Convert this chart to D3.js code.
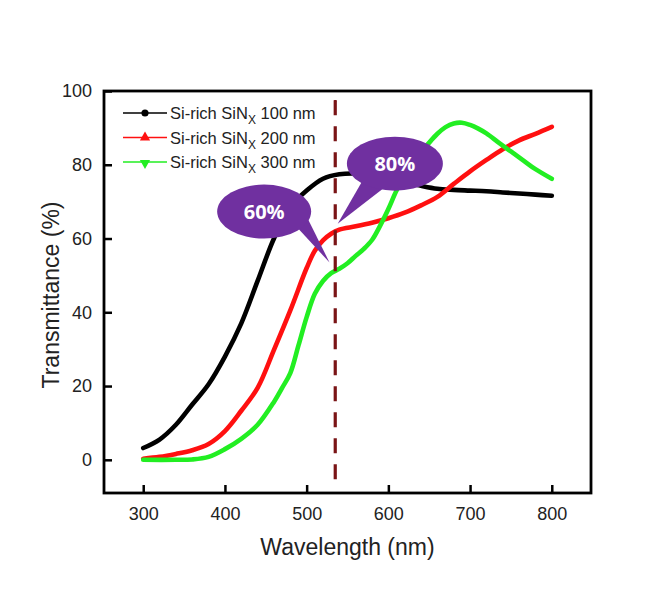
<!DOCTYPE html>
<html>
<head>
<meta charset="utf-8">
<script src="https://cdn.jsdelivr.net/npm/d3@7"></script>
<style>
  body { margin: 0; background: #fff; }
  text { font-family: "Liberation Sans", Arial, sans-serif; }
</style>
</head>
<body>
<div id="chart"></div>
<script>
// data (wavelength in nm, transmittance in %)
const wl100 = [300,320,340,360,380,400,420,440,460,480,500,520,540,560,580,600,620,640,660,680,700,720,740,760,780,800];
const t100  = [3.2,5.5,9.5,15,20.5,28,37,48.5,60,68.5,73,76.2,77.4,77.6,77.2,76.3,75.3,74.3,73.5,73.2,73,72.8,72.5,72.2,71.9,71.6];

const wl200 = [300,320,340,360,380,400,420,440,460,480,500,510,520,530,540,560,580,600,620,640,660,680,700,720,740,760,780,800];
const t200  = [0.3,0.8,1.6,2.6,4.3,7.8,13.3,19.5,29.8,40.5,52,56.7,59.5,61.3,62.4,63.3,64.3,65.5,67,69,71.3,74.8,78.2,81.3,84.2,86.6,88.4,90.3];

const wl300 = [300,340,360,380,400,420,440,460,470,480,490,500,510,520,530,540,550,560,570,580,590,600,610,620,630,640,650,660,670,680,690,700,710,720,735,750,765,780,800];
const t300  = [0,0,0.1,0.8,2.9,5.7,9.5,15.7,19.5,23.5,31,38.7,45,48.5,50.6,51.8,53.3,55.3,57.2,59.6,63.5,68,73,77,80,83.3,86,88.4,90.2,91.2,91.4,90.8,89.8,88.5,86,83.6,81.2,78.8,76.2];

const seriesNames = ["100 nm", "200 nm", "300 nm"];
const xTicks = [300, 400, 500, 600, 700, 800];
const yTicks = [0, 20, 40, 60, 80, 100];
const markerLine = 535;           // dashed reference wavelength
const calloutLabels = ["60%", "80%"];
const calloutTip = [[528, 53.5], [538, 64]];     // [wavelength, %]
const calloutCenter = [[448, 67.3], [608, 80.3]];

const W = 667, H = 599;
const m = {top: 91, right: 76, bottom: 106, left: 104},
    w = W - m.left - m.right,
    h = H - m.top - m.bottom;

const svg = d3.select("#chart").append("svg")
    .attr("width", W).attr("height", H);

const x = d3.scaleLinear().domain([252, 848]).range([m.left, m.left + w]);
const y = d3.scaleLinear().domain([-9, 100]).range([m.top + h, m.top]);

// axes with inward ticks
const xAxis = svg.append("g")
    .attr("transform", `translate(0,${m.top + h})`)
    .call(d3.axisBottom(x).tickValues(xTicks).tickSizeInner(-8).tickSizeOuter(0).tickPadding(14));
const yAxis = svg.append("g")
    .attr("transform", `translate(${m.left},0)`)
    .call(d3.axisLeft(y).tickValues(yTicks).tickSizeInner(-8).tickSizeOuter(0).tickPadding(12));

[xAxis, yAxis].forEach(a => {
  a.select(".domain").remove();
  a.selectAll(".tick line").attr("stroke", "#000").attr("stroke-width", 2.5);
  a.selectAll(".tick text").attr("fill", "#222").style("font-size", "18px")
    .style("font-family", "'Liberation Sans', Arial, sans-serif");
});

// frame
svg.append("rect")
    .attr("x", m.left).attr("y", m.top)
    .attr("width", w).attr("height", h)
    .attr("fill", "none").attr("stroke", "#000").attr("stroke-width", 2.8);

// axis titles
svg.append("text")
    .attr("x", m.left + w / 2).attr("y", 555)
    .attr("text-anchor", "middle")
    .style("font-size", "23px").attr("fill", "#222")
    .text("Wavelength (nm)");
svg.append("text")
    .attr("transform", `translate(59,${m.top + h / 2 + 3}) rotate(-90)`)
    .attr("text-anchor", "middle")
    .style("font-size", "23px").attr("fill", "#222")
    .text("Transmittance (%)");

// curves
const colors = ["#000000", "#ff1010", "#22ee22"];
const sets = [[wl100, t100], [wl200, t200], [wl300, t300]];
const line = d3.line().x(d => x(d[0])).y(d => y(d[1])).curve(d3.curveCatmullRom.alpha(0.5));

sets.forEach((s, i) => {
  const pts = s[0].map((v, j) => [v, s[1][j]]);
  svg.append("path")
      .datum(pts)
      .attr("d", line)
      .attr("fill", "none")
      .attr("stroke", colors[i])
      .attr("stroke-width", 4.6)
      .attr("stroke-linejoin", "round")
      .attr("stroke-linecap", "round");
});

// dashed reference line
svg.append("line")
    .attr("x1", x(markerLine)).attr("x2", x(markerLine))
    .attr("y1", y(97.5)).attr("y2", y(-6))
    .attr("stroke", "#7a1416").attr("stroke-width", 3.2)
    .attr("stroke-dasharray", "15,11");
svg.append("rect")
    .attr("x", x(markerLine) - 1).attr("y", y(100) + 9)
    .attr("width", 2).attr("height", 2).attr("fill", "#7a1416");

// legend
const lg = svg.append("g").attr("transform", "translate(123,113)");
const sym = [d3.symbolCircle, d3.symbolTriangle, d3.symbolTriangle];
seriesNames.forEach((n, i) => {
  const row = lg.append("g").attr("transform", `translate(0,${i * 24.5})`);
  row.append("line").attr("x1", 0).attr("x2", 44)
      .attr("stroke", colors[i]).attr("stroke-width", 1.6);
  row.append("path")
      .attr("d", d3.symbol().type(sym[i]).size(i === 0 ? 40 : 45))
      .attr("transform", `translate(22,${i === 2 ? 1 : 0}) rotate(${i === 2 ? 180 : 0})`)
      .attr("fill", colors[i]);
  const t = row.append("text").attr("x", 47).attr("y", 6)
      .style("font-size", "16.5px").attr("fill", "#222");
  t.append("tspan").text("Si-rich SiN");
  t.append("tspan").attr("dy", 5).style("font-size", "12px").text("X");
  t.append("tspan").attr("dy", -5).text(" " + n);
});

// callouts
const rx = [47, 48], ry = [27, 27];
const baseOff = [[[34, 17], [44, 8]], [[-33, 18], [-12, 25]]];
calloutLabels.forEach((lab, i) => {
  const cx = x(calloutCenter[i][0]), cy = y(calloutCenter[i][1]);
  const tip = [x(calloutTip[i][0]), y(calloutTip[i][1])];
  const g = svg.append("g");
  g.append("path")
      .attr("d", d3.line()([[cx + baseOff[i][0][0], cy + baseOff[i][0][1]], tip,
                            [cx + baseOff[i][1][0], cy + baseOff[i][1][1]]]) + "Z")
      .attr("fill", "#7030a0");
  g.append("ellipse")
      .attr("cx", cx).attr("cy", cy).attr("rx", rx[i]).attr("ry", ry[i])
      .attr("fill", "#7030a0");
  g.append("text")
      .attr("x", cx).attr("y", cy + 7)
      .attr("text-anchor", "middle")
      .style("font-family", "'Open Sans', sans-serif")
      .style("font-weight", "bold").style("font-size", "20px")
      .attr("fill", "#fff")
      .text(lab);
});
</script>
</body>
</html>
